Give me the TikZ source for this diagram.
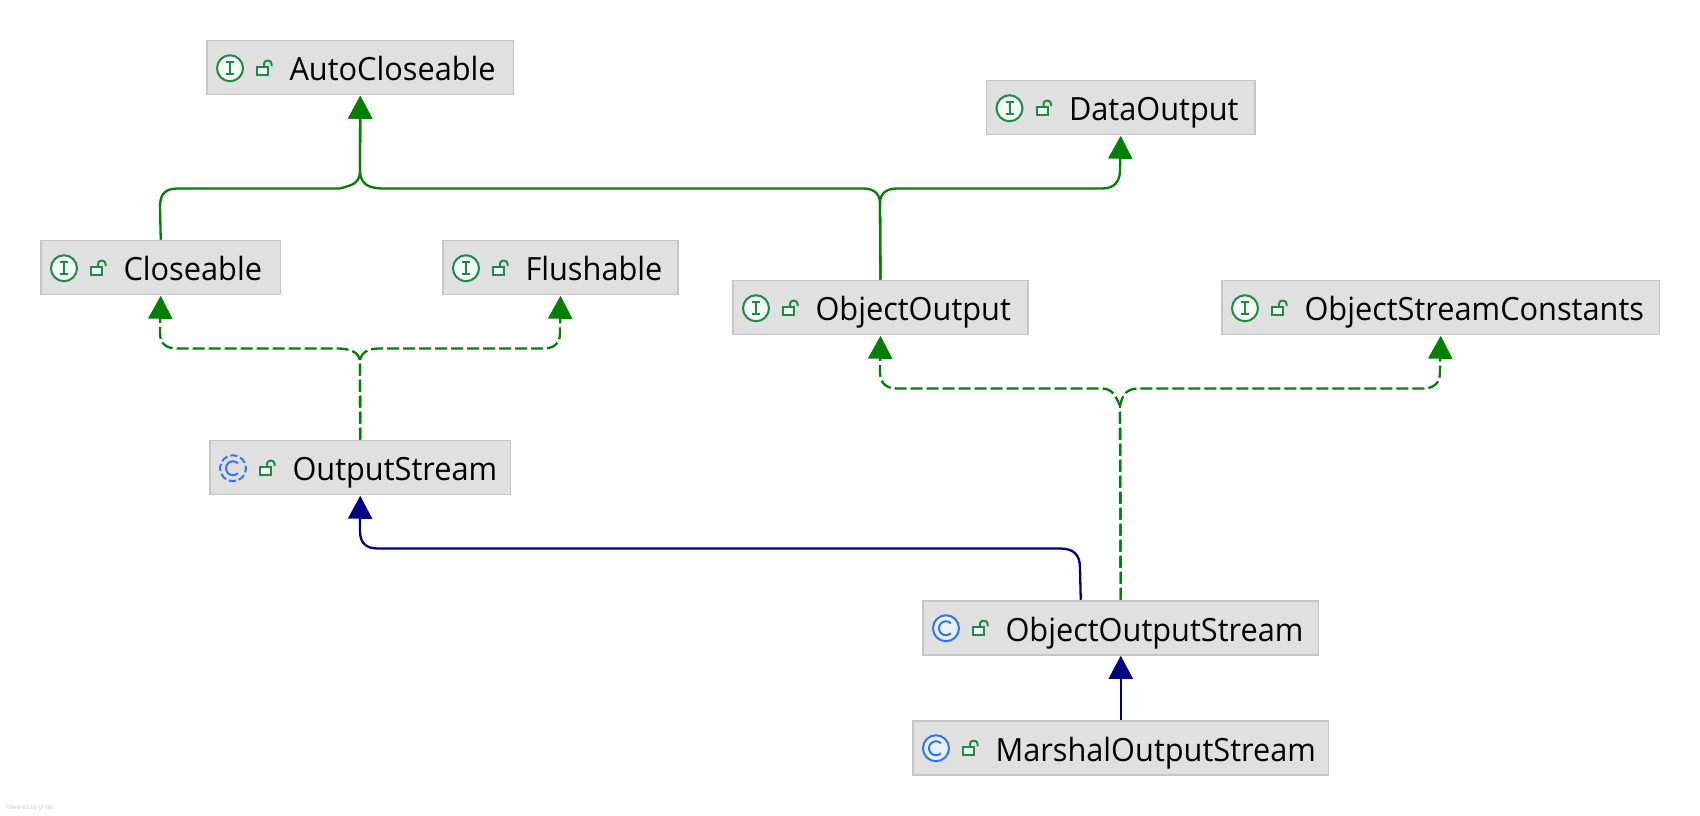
\documentclass[tikz,border=0pt]{standalone}
\usepackage{fontspec}
\setmainfont{Open Sans}[FakeStretch=0.96]
\usetikzlibrary{arrows.meta}
\definecolor{boxfill}{HTML}{E0E0E0}
\definecolor{boxline}{HTML}{C6C6C6}
\definecolor{inhgreen}{HTML}{008000}
\definecolor{inhblue}{HTML}{000080}
\definecolor{icogreen}{HTML}{1E8A45}
\definecolor{icogreenfill}{HTML}{F2FAF5}
\definecolor{icoblue}{HTML}{3574F0}
\definecolor{icobluefill}{HTML}{E8F0FE}
\newlength{\pxu}\setlength{\pxu}{0.75pt}
\tikzset{
  x=0.75pt, y=-0.75pt,
  umlbox/.style={draw=boxline, fill=boxfill, line width=1.5\pxu, inner sep=0pt, outer sep=0.75pt,
    text height=40.25\pxu, text depth=13.75\pxu, font=\fontsize{24}{24}\selectfont, anchor=north west},
  wire/.style={line width=2.3\pxu, line join=round},
  tipped/.style={-{Triangle[length=17.25pt,width=18pt]}},
  extgreen/.style={wire, tipped, draw=inhgreen, color=inhgreen},
  impgreen/.style={extgreen, dash pattern=on 12\pxu off 4\pxu},
  extblue/.style={wire, tipped, draw=inhblue, color=inhblue},
  icoring/.style={line width=2\pxu},
  icoglyph/.style={line width=2\pxu, line cap=butt},
  lockpart/.style={draw=icogreen, line width=2\pxu},
}
% name, left x, top y, width, text
\newcommand{\umlnode}[5]{\node[umlbox] (#1) at (#2,#3) {\makebox[#4\pxu][l]{\hspace*{82.5\pxu}#5}};}
\newcommand{\lockicon}[1]{%
  \begin{scope}[shift={(#1.west)}]
    \draw[lockpart, fill=icogreenfill] (51,-1) rectangle (62,7);
    \draw[lockpart, rounded corners=3\pxu] (58,-1) -- (58,-7) -- (65.5,-7) -- (65.5,-1.5);
  \end{scope}}
\newcommand{\ifaceicon}[1]{%
  \begin{scope}[shift={(#1.west)}]
    \draw[icoring, draw=icogreen, fill=icogreenfill] (24,0.5) circle [radius=13];
    \draw[icoglyph, draw=icogreen] (24,-5.5) -- (24,6.5) (20,-5.5) -- (28,-5.5) (20,6.5) -- (28,6.5);
  \end{scope}\lockicon{#1}}
\newcommand{\classicon}[2]{%
  \begin{scope}[shift={(#1.west)}]
    \draw[icoring, draw=icoblue, fill=#2] (24,0.5) circle [radius=13];
    \draw[icoglyph, draw=icoblue] (24,0.5) ++(45:7) arc [start angle=45, delta angle=270, radius=7];
  \end{scope}\lockicon{#1}}
\newcommand{\abstracticon}[1]{%
  \begin{scope}[shift={(#1.west)}]
    \draw[icoring, draw=icoblue, fill=boxfill, dash pattern=on 7.2\pxu off 3\pxu, dash phase=3\pxu] (24,0.5) circle [radius=13];
    \draw[icoglyph, draw=icoblue] (24,0.5) ++(45:7) arc [start angle=45, delta angle=270, radius=7];
  \end{scope}\lockicon{#1}}
\begin{document}
\begin{tikzpicture}
\useasboundingbox (0,0) rectangle (1700,816);
\umlnode{auto}{206}{39.75}{306.5}{AutoCloseable}
\umlnode{data}{985.5}{79.75}{268.5}{DataOutput}
\umlnode{close}{40}{239.75}{239.5}{Closeable}
\umlnode{flush}{442}{239.75}{235}{Flushable}
\umlnode{oout}{732}{279.75}{295}{ObjectOutput}
\umlnode{osc}{1221}{279.75}{437.5}{ObjectStreamConstants}
\umlnode{ostream}{209}{439.75}{300.5}{OutputStream}
\umlnode{oos}{922}{599.75}{395.5}{ObjectOutputStream}
\umlnode{marshal}{912}{719.75}{415.5}{MarshalOutputStream}
\ifaceicon{auto}\ifaceicon{data}\ifaceicon{close}\ifaceicon{flush}\ifaceicon{oout}\ifaceicon{osc}
\abstracticon{ostream}
\classicon{oos}{icobluefill}\classicon{marshal}{icobluefill}
% junction points
\coordinate (jauto) at (360,172);
\coordinate (joout) at (880,203);
\coordinate (jstream) at (360,360);
\coordinate (joos) at (1120,406);
% solid green
\draw[extgreen] (close.north) -- (160,207) .. controls (160,194) and (165,188.5) .. (178,188.5)
  -- (340,188.5) .. controls (352,185) and (359,184) .. (jauto) -- (auto.south);
\draw[extgreen] (oout.north) -- (joout) .. controls (880,194) and (874,188.5) .. (863,188.5)
  -- (382,188.5) .. controls (368,188) and (361,184) .. (jauto) -- (auto.south);
\draw[extgreen] (oout.north) -- (joout) .. controls (880,194) and (886,188.5) .. (897,188.5)
  -- (1102,188.5) .. controls (1114,188.5) and (1120,182) .. (1120,170) -- (data.south);
% dashed green
\draw[impgreen] (ostream.north) -- (jstream) .. controls (358,352) and (350,348.5) .. (337,348.5)
  -- (178,348.5) .. controls (166,348.5) and (160,344) .. (160,333) -- (close.south);
\draw[impgreen] (ostream.north) -- (jstream) .. controls (362,352) and (368,348.5) .. (380,348.5)
  -- (542,348.5) .. controls (554,348.5) and (560,344) .. (560,333) -- (flush.south);
\draw[impgreen] (oos.north) -- (joos) .. controls (1116,396) and (1112,388.5) .. (1102,388.5)
  -- (897,388.5) .. controls (886,388.5) and (880,383) .. (880,372) -- (oout.south);
\draw[impgreen] (oos.north) -- (joos) .. controls (1122,396) and (1126,388.5) .. (1138,388.5)
  -- (1423,388.5) .. controls (1434,388.5) and (1440,383) .. (1440,372) -- (osc.south);
% blue
\draw[extblue] ([xshift=-40\pxu]oos.north) -- (1080,568) .. controls (1080,555) and (1074,548.5) .. (1060,548.5)
  -- (378,548.5) .. controls (366,548.5) and (360,543) .. (360,531) -- (ostream.south);
\draw[extblue] (marshal.north) -- (oos.south);
\node[font=\fontsize{4.6}{5}\selectfont, text=black!22, inner sep=0pt, anchor=west] (powered) at (5,808) {Powered by yFiles};
\end{tikzpicture}
\end{document}
